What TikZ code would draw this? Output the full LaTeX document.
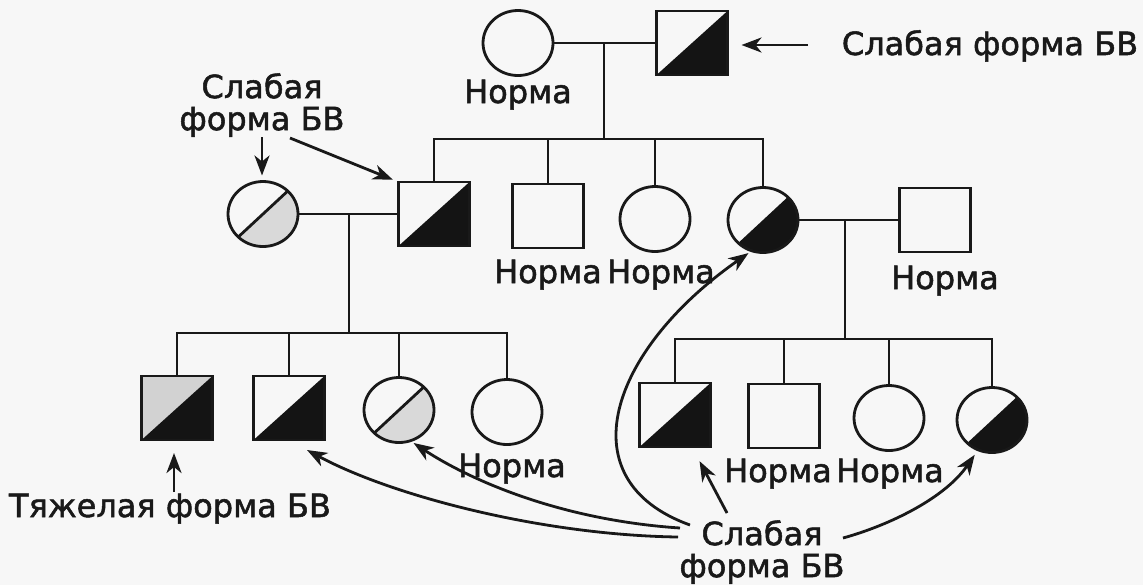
\documentclass[tikz,border=0pt]{standalone}
\usepackage{fontspec}
\setmainfont{DejaVu Sans}
\newfontfamily\lblfont{DejaVu Sans}[FakeBold=1.6]
\usetikzlibrary{shapes.geometric,arrows.meta,calc}
\begin{document}
\begin{tikzpicture}[x=0.5pt,y=-0.5pt,
  every node/.style={font=\lblfont\fontsize{16}{16}\selectfont, text=black!90},
  lw/.style={line width=1.4pt, black!90},
  arr/.style={line width=1.4pt, black!90, -{Stealth[length=10pt,width=7.5pt,inset=3pt]}},
  male/.style={draw=black!90, line width=1.4pt, rectangle, minimum width=35.5pt, minimum height=32pt, inner sep=0pt, outer sep=0pt},
  female/.style={draw=black!90, line width=1.4pt, ellipse, minimum width=35pt, minimum height=32.5pt, inner sep=0pt, outer sep=0pt},
  halfblack/.style={path picture={\fill[black!92] (path picture bounding box.south west) -- (path picture bounding box.north east) -- (path picture bounding box.south east) -- cycle;}},
  severe/.style={path picture={\fill[gray!35] (path picture bounding box.south west) -- (path picture bounding box.north west) -- (path picture bounding box.north east) -- cycle;
     \fill[black!92] (path picture bounding box.south west) -- (path picture bounding box.north east) -- (path picture bounding box.south east) -- cycle;}},
  carrier/.style={path picture={\fill[gray!30] (path picture bounding box.south west) -- (path picture bounding box.north east) -- (path picture bounding box.south east) -- cycle;
     \draw[line width=1.4pt, black!90] (path picture bounding box.south west) -- (path picture bounding box.north east);}},
  lbl/.style={inner sep=0pt, anchor=base},
  mlbl/.style={inner sep=0pt, align=center}
]
\fill[gray!6] (0,0) rectangle (1143,585);
\useasboundingbox (0,0) rectangle (1143,585);

% Generation 1
\node[female] (g1f) at (518,43) {};
\node[male, halfblack] (g1m) at (692,43) {};
\node[lbl] (t1) at (518,103) {Норма};
\node[lbl] (t2) at (990,55) {Слабая форма БВ};
\coordinate (a1) at (808,45);
\draw[arr, shorten >=7pt] (a1) -- (g1m.east |- a1);
\draw[lw] (g1f.east) -- (g1m.west);
\coordinate (m1) at (604,43);
\coordinate (s1) at (604,139);

% Generation 2
\node[female, carrier] (g2w) at (263,214) {};
\node[male, halfblack] (g2h) at (434,214) {};
\node[male] (g2n1) at (548,216) {};
\node[female] (g2n2) at (655,219) {};
\node[female, halfblack] (g2a) at (763,220) {};
\node[male] (g2s) at (935,220) {};

\draw[lw] (m1) -- (s1);
\draw[lw] (g2h.north) |- (s1) -| (g2a.north);
\draw[lw] (g2n1.north) -- (g2n1.north |- s1);
\draw[lw] (g2n2.north) -- (g2n2.north |- s1);

\node[lbl] (t3) at (548,283) {Норма};
\node[lbl] (t4) at (661,283) {Норма};
\node[lbl] (t5) at (945,289) {Норма};

\node[mlbl] (tl) at (262,105) {Слабая\\форма БВ};
\coordinate (lw1) at (262,137);
\coordinate (lw2) at (290,138);
\draw[arr, shorten >=3pt] (lw1) -- (lw1 |- g2w.north);
\draw[arr, shorten >=3pt] (lw2) -- (g2h.north west);

\draw[lw] (g2w.east) -- (g2h.west);
\coordinate (m2) at (349,214);
\coordinate (s2) at (349,333);
\draw[lw] (m2) -- (s2);
\draw[lw] (g2a.east) -- (g2s.west);
\coordinate (m3) at (845,220);
\coordinate (s3) at (845,339);
\draw[lw] (m3) -- (s3);

% Generation 3 left
\node[male, severe] (c1) at (177,408) {};
\node[male, halfblack] (c2) at (289,408) {};
\node[female, carrier] (c3) at (399,410) {};
\node[female] (c4) at (507,412) {};
\draw[lw] (c1.north) |- (s2) -| (c4.north);
\draw[lw] (c2.north) -- (c2.north |- s2);
\draw[lw] (c3.north) -- (c3.north |- s2);

% Generation 3 right
\node[male, halfblack] (d1) at (675,415) {};
\node[male] (d2) at (784,416) {};
\node[female] (d3) at (889,418) {};
\node[female, halfblack] (d4) at (992,420) {};
\draw[lw] (d1.north) |- (s3) -| (d4.north);
\draw[lw] (d2.north) -- (d2.north |- s3);
\draw[lw] (d3.north) -- (d3.north |- s3);

\node[lbl] (t6) at (512,477) {Норма};
\node[lbl] (t7) at (778,482) {Норма};
\node[lbl] (t8) at (890,482) {Норма};
\node[lbl] (t9) at (170,517) {Тяжелая форма БВ};
\coordinate (tw) at (174,492);
\draw[arr, shorten >=6.5pt] (tw) -- (tw |- c1.south);

\node[mlbl] (tb) at (762,552) {Слабая\\форма БВ};
\coordinate (b1) at (690,525);
\coordinate (b2) at (727,513);
\coordinate (b3) at (843,538);
\coordinate (b4) at (680,528);
\coordinate (b5) at (678,537);
\draw[arr, shorten >=2pt] (b1) .. controls (565,480) and (610,350) .. (g2a.250);
\draw[arr, shorten >=8pt] (b2) -- ($(d1.south)!0.48!(d1.south east)$);
\draw[arr, shorten >=3pt] (b3) .. controls (890,525) and (945,498) .. (d4.245);
\draw[arr, shorten >=2pt] (b4) .. controls (560,520) and (470,480) .. (c3.290);
\draw[arr] (b5) .. controls (540,535) and (390,495) .. ($(c2.south)+(18,10)$);
\end{tikzpicture}
\end{document}
